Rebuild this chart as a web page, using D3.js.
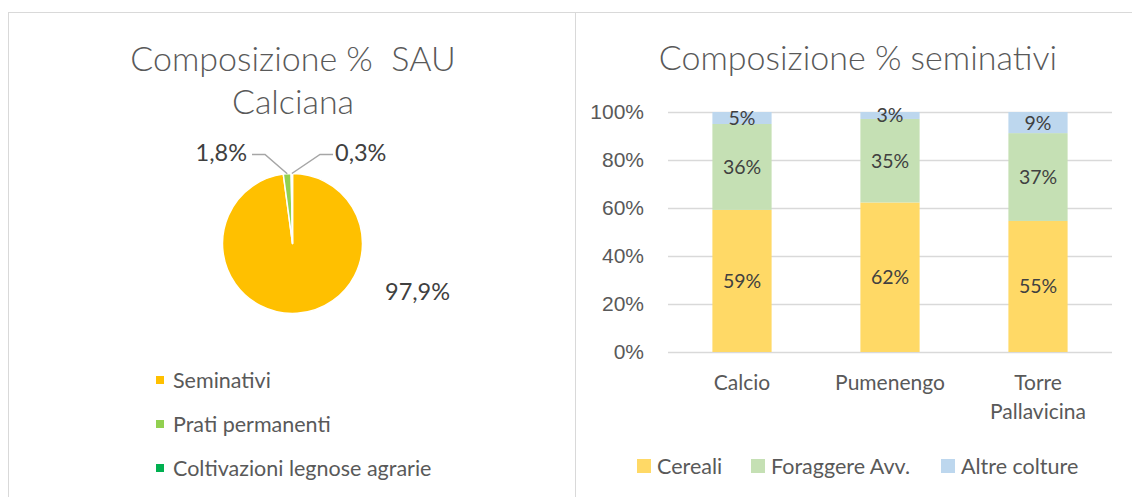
<!DOCTYPE html>
<html><head><meta charset="utf-8">
<script src="https://cdn.jsdelivr.net/npm/d3@7"></script>
<style>body{margin:0;background:#fff}svg{display:block;font-family:Lato,"Open Sans",sans-serif}</style>
</head><body><svg id="c" width="1132" height="497"></svg>
<script>
// ---- data ----
const pieCategories = ["Seminativi", "Prati permanenti", "Coltivazioni legnose agrarie"];
const pieValues = [97.9, 1.8, 0.3];
const pieLabels = ["97,9%", "1,8%", "0,3%"];
const pieColors = ["#FFC000", "#92D050", "#00B050"];

const barCategories = [["Calcio"], ["Pumenengo"], ["Torre", "Pallavicina"]];
const seriesNames = ["Cereali", "Foraggere Avv.", "Altre colture"];
const cereali = [59.2, 62.3, 54.6];
const foraggere = [35.8, 34.8, 36.6];
const altre = [5.0, 2.9, 8.8];
const seriesColors = ["#FFD966", "#C5E0B4", "#BDD7EE"];
const yTicks = [0, 20, 40, 60, 80, 100];

const svg = d3.select("#c");
const grey = "#595959", dark = "#404040", border = "#d9d9d9";
const titleFs = 34, legFs = 21.5, axisFs = 21, dataFs = 19.5, pieFs = 23.5;

// panel borders
svg.append("line").attr("x1", 8).attr("x2", 1132).attr("y1", 12.5).attr("y2", 12.5).attr("stroke", border);
svg.append("line").attr("x1", 8.5).attr("x2", 8.5).attr("y1", 12).attr("y2", 497).attr("stroke", border);
svg.append("line").attr("x1", 575.5).attr("x2", 575.5).attr("y1", 12).attr("y2", 497).attr("stroke", border);

// ---- left: pie ----
const L = svg.append("g");
L.append("text").attr("x", 293).attr("y", 71).attr("text-anchor", "middle").attr("fill", grey)
  .attr("font-size", titleFs).attr("font-weight", 300).text("Composizione %\u00a0\u00a0SAU");
L.append("text").attr("x", 293).attr("y", 114).attr("text-anchor", "middle").attr("fill", grey)
  .attr("font-size", titleFs).attr("font-weight", 300).text("Calciana");

const cx = 292.5, cy = 243.5, R = 70;
const pie = d3.pie().sort(null).value(d => d)(pieValues);
const arc = d3.arc().innerRadius(0).outerRadius(R);
const pg = L.append("g").attr("transform", `translate(${cx},${cy})`);
pg.selectAll("path").data(pie).join("path").attr("d", arc)
  .attr("fill", (d, i) => pieColors[i]).attr("stroke", "#fff").attr("stroke-width", 1.5).attr("stroke-linejoin", "round");

// labels
L.append("text").attr("x", 385).attr("y", 300).attr("fill", dark).attr("font-size", pieFs).text(pieLabels[0]);
const leader = [
  { i: 1, elbow: [265, 154.5], end: [252, 154.5], anchor: "end", tx: 247 },
  { i: 2, elbow: [320, 154.5], end: [333, 154.5], anchor: "start", tx: 335 }
];
leader.forEach(o => {
  const d = pie[o.i];
  const a = (d.startAngle + d.endAngle) / 2;
  const px = cx + R * Math.sin(a), py = cy - R * Math.cos(a);
  L.append("polyline").attr("points", `${px},${py} ${o.elbow[0]},${o.elbow[1]} ${o.end[0]},${o.end[1]}`)
    .attr("fill", "none").attr("stroke", "#a6a6a6").attr("stroke-width", 1.5);
  L.append("text").attr("x", o.tx).attr("y", o.elbow[1] + 6).attr("text-anchor", o.anchor)
    .attr("fill", dark).attr("font-size", pieFs).text(pieLabels[o.i]);
});

// legend left
pieCategories.forEach((c, i) => {
  const y = 380 + i * 44;
  L.append("rect").attr("x", 156).attr("y", y - 4).attr("width", 8).attr("height", 8).attr("fill", pieColors[i]);
  L.append("text").attr("x", 173).attr("y", y + 7.5).attr("fill", grey).attr("font-size", legFs).text(c);
});

// ---- right: stacked bars ----
const Rg = svg.append("g");
Rg.append("text").attr("x", 858).attr("y", 70).attr("text-anchor", "middle").attr("fill", grey)
  .attr("font-size", titleFs).attr("font-weight", 300).text("Composizione % seminativi");

const x = d3.scaleBand().domain(barCategories.map(d => d.join(" "))).range([668, 1112]).paddingInner(0.6).paddingOuter(0.3);
const y = d3.scaleLinear().domain([0, 100]).range([352, 112]);

Rg.append("g").selectAll("line").data(yTicks).join("line")
  .attr("x1", 668).attr("x2", 1112).attr("y1", d => Math.round(y(d)) + 0.5).attr("y2", d => Math.round(y(d)) + 0.5)
  .attr("stroke", border).attr("stroke-width", 1.3);

const yAxis = d3.axisLeft(y).tickValues(yTicks).tickFormat(d => d + "%").tickSize(0).tickPadding(0);
const ya = Rg.append("g").attr("transform", "translate(644,0)").call(yAxis);
ya.select(".domain").remove();
ya.selectAll("text").attr("fill", grey).attr("font-size", axisFs).attr("font-family", "inherit");

const rows = barCategories.map((c, i) => ({ key: c.join(" "), Cereali: cereali[i], "Foraggere Avv.": foraggere[i], "Altre colture": altre[i] }));
const stack = d3.stack().keys(seriesNames)(rows);
stack.forEach((s, si) => {
  const g = Rg.append("g");
  g.selectAll("rect").data(s).join("rect")
    .attr("x", d => x(d.data.key)).attr("width", x.bandwidth())
    .attr("y", d => y(d[1])).attr("height", d => y(d[0]) - y(d[1]))
    .attr("fill", seriesColors[si]);
  g.selectAll("text").data(s).join("text")
    .attr("x", d => x(d.data.key) + x.bandwidth() / 2)
    .attr("y", d => (y(d[0]) + y(d[1])) / 2 + 7)
    .attr("text-anchor", "middle").attr("fill", dark).attr("font-size", dataFs)
    .text(d => Math.round(d[1] - d[0]) + "%");
});

barCategories.forEach((c, i) => {
  c.forEach((line, j) => {
    Rg.append("text").attr("x", x(c.join(" ")) + x.bandwidth() / 2).attr("y", 390 + j * 29)
      .attr("text-anchor", "middle").attr("fill", grey).attr("font-size", axisFs).text(line);
  });
});

const legX = [637, 751, 941];
seriesNames.forEach((n, i) => {
  Rg.append("rect").attr("x", legX[i]).attr("y", 459).attr("width", 14).attr("height", 14).attr("fill", seriesColors[i]);
  Rg.append("text").attr("x", legX[i] + 20).attr("y", 474).attr("fill", grey).attr("font-size", legFs).text(n);
});
</script></body></html>
